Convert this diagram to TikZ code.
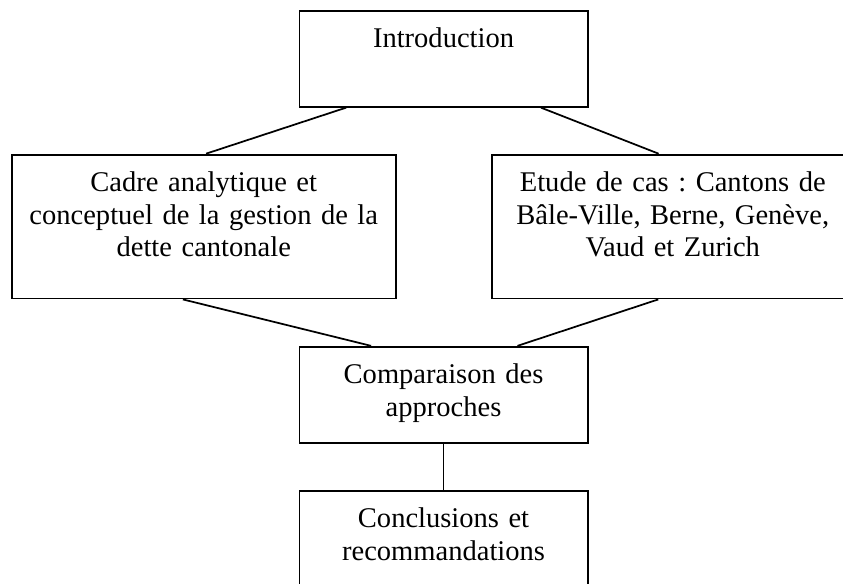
\documentclass[tikz,border=0pt]{standalone}
\usepackage{fontspec}
\setmainfont{Liberation Serif}
\usetikzlibrary{calc}
\frenchspacing
\begin{document}
\begin{tikzpicture}[x=0.75pt,y=-0.75pt,
  box/.style={draw=black, line width=1.4pt, inner sep=0pt, align=center,
    font=\fontsize{21.4}{24.4}\selectfont\frenchspacing, text height=27.75pt},
  conn/.style={draw=black, line width=1.3pt}]
\useasboundingbox (0,0) rectangle (843,583);
\clip (0,0) rectangle (843,583);
\node[box, text width=216.1pt, text depth=44.05pt] (intro) at (443.55,58.85) {Introduction};
\node[box, text width=287.9pt, text depth=80.15pt] (cadre) at (203.75,226.55)
  {Cadre analytique et\\conceptuel de la gestion de la\\dette cantonale};
\node[box, text width=271.2pt, text depth=80.15pt] (etude) at (672.8,226.55)
  {Etude de cas : Cantons de\\Bâle-Ville, Berne, Genève,\\Vaud et Zurich};
\node[box, text width=216.1pt, text depth=44.45pt] (comp) at (443.55,394.9)
  {Comparaison des\\approches};
\node[box, text width=216.1pt, text depth=54.75pt] (concl) at (443.55,545.7)
  {Conclusions et\\recommandations};
\draw[conn] ($(intro.south west)!0.164!(intro.south east)$) -- ($(cadre.north west)!0.506!(cadre.north east)$);
\draw[conn] ($(intro.south west)!0.836!(intro.south east)$) -- ($(etude.north west)!0.461!(etude.north east)$);
\draw[conn] ($(cadre.south west)!0.446!(cadre.south east)$) -- ($(comp.north west)!0.25!(comp.north east)$);
\draw[conn] ($(etude.south west)!0.46!(etude.south east)$) -- ($(comp.north west)!0.755!(comp.north east)$);
\draw[conn] (comp.south) -- (concl.north);
\end{tikzpicture}
\end{document}
